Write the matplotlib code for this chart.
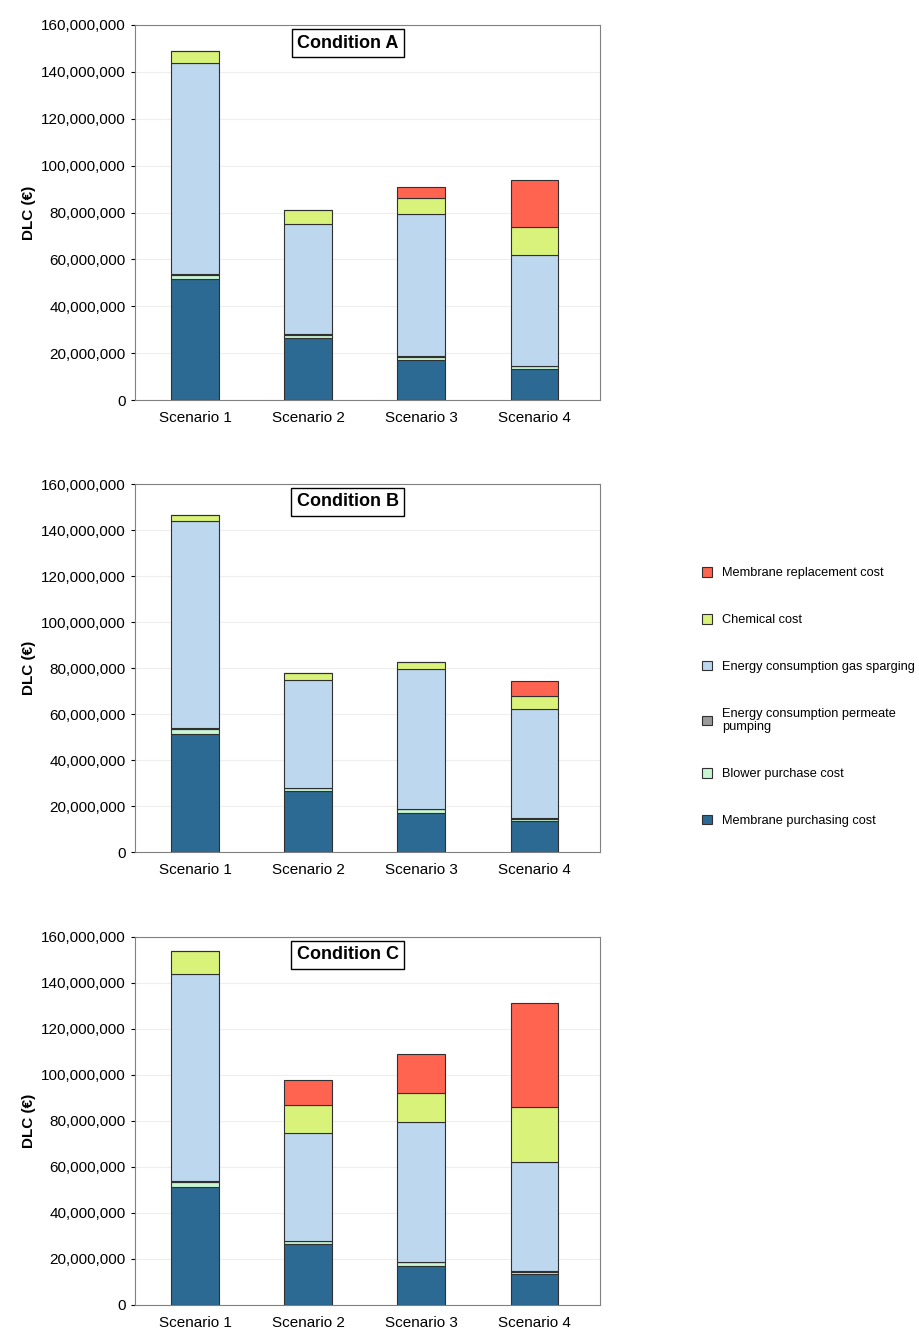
import matplotlib.pyplot as plt
import matplotlib.transforms as mtransforms
import numpy as np
from matplotlib.ticker import FuncFormatter

plt.rcParams['font.family'] = ['Liberation Sans', 'DejaVu Sans']

scenarios = ['Scenario 1', 'Scenario 2', 'Scenario 3', 'Scenario 4']
labels = ['Membrane purchasing cost', 'Blower purchase cost',
          'Energy consumption permeate\npumping', 'Energy consumption gas sparging',
          'Chemical cost', 'Membrane replacement cost']
colors = ['#2c6a94', '#c8f5d2', '#9a9a9a', '#bdd7ee', '#d9f27a', '#ff6450']

membrane = [51.5e6, 26.5e6, 17.0e6, 13.3e6]
blower = [2.0e6, 1.2e6, 1.5e6, 1.0e6]
permeate = [0.3e6, 0.3e6, 0.3e6, 0.3e6]
gas = [90.2e6, 47.0e6, 60.7e6, 47.4e6]

chemical = {'A': [5e6, 6e6, 6.5e6, 12e6],
            'B': [2.5e6, 3e6, 3e6, 6e6],
            'C': [10e6, 12e6, 12.5e6, 24e6]}
replacement = {'A': [0, 0, 5e6, 20e6],
               'B': [0, 0, 0, 6.5e6],
               'C': [0, 11e6, 17e6, 45.5e6]}

W, H = 919, 1332
fig = plt.figure(figsize=(W / 100, H / 100), dpi=100)
panels = [('A', 25, 400), ('B', 484, 852), ('C', 937, 1305)]
x = np.arange(4)
handles = None
for cond, top, bot in panels:
    ax = fig.add_axes([135 / W, 1 - bot / H, 465 / W, (bot - top) / H])
    series = [membrane, blower, permeate, gas, chemical[cond], replacement[cond]]
    bottom = np.zeros(4)
    hs = []
    for vals, c, lab in zip(series, colors, labels):
        h = ax.bar(x, vals, 0.42, bottom=bottom, color=c, edgecolor='#303030',
                   linewidth=0.8, label=lab, zorder=3)
        bottom += np.array(vals)
        hs.append(h)
    handles = hs
    ax.set_xlim(-0.53, 3.58)
    ax.set_ylim(0, 160e6)
    ax.set_yticks(np.arange(0, 160e6 + 1, 20e6))
    ax.yaxis.set_major_formatter(FuncFormatter(lambda v, p: f'{int(v):,}'))
    ax.set_xticks(x)
    ax.set_xticklabels(scenarios)
    ax.tick_params(labelsize=11, length=3)
    ax.tick_params(axis='x', length=0, pad=8)
    ax.grid(axis='y', color='#eeeeee', linewidth=0.8, zorder=0)
    for s in ax.spines.values():
        s.set_color('#808080')
    ax.set_ylabel('DLC (€)', fontsize=11, fontweight='bold')
    tr = mtransforms.blended_transform_factory(ax.transData, ax.transAxes)
    ax.text(1.35, 0.952, f'Condition {cond}', transform=tr,
            ha='center', va='center', fontsize=13, fontweight='bold',
            bbox=dict(boxstyle='square,pad=0.3', fc='white', ec='black', lw=1),
            zorder=5)

fig.legend(handles[::-1], labels[::-1], loc='center left',
           bbox_to_anchor=(690 / W, 1 - 697 / H), frameon=False, fontsize=9.2,
           labelspacing=2.7, handlelength=0.8, handleheight=0.8,
           handletextpad=0.8)
fig.savefig('out.png', dpi=100)
